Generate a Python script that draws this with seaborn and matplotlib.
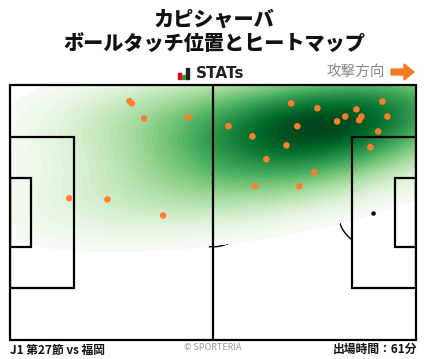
import numpy as np
import pandas as pd
import matplotlib
matplotlib.use("Agg")
import matplotlib.pyplot as plt
from matplotlib.patches import Rectangle, Arc, Circle, FancyArrow
import seaborn as sns

# Touch positions on a 105 x 68 pitch (y measured from the top touchline)
touch_x = [30.9, 31.5, 34.7, 46.1, 15.3, 25.2, 39.6, 72.7, 79.5, 96.3, 89.6, 86.7, 90.9,
           90.3, 84.6, 97.6, 56.5, 74.3, 95.2, 62.7, 93.2, 71.5, 66.3, 78.7, 63.4, 74.8]
touch_y = [4.3, 4.9, 8.9, 8.6, 30.2, 30.5, 34.8, 4.9, 6.2, 4.4, 6.5, 8.4, 8.4,
           9.4, 9.7, 8.4, 11.0, 11.0, 12.4, 13.7, 16.6, 16.1, 19.8, 23.3, 27.0, 27.0]

title_lines = ["カピシャーバ", "ボールタッチ位置とヒートマップ"]
match_label = "J1 第27節 vs 福岡"
minutes_label = "出場時間：61分"

JP = ["Noto Sans CJK JP", "DejaVu Sans"]

sns.set_theme(style="white")
plt.rcParams["font.family"] = JP

W, H = 428, 359
fig = plt.figure(figsize=(W / 100, H / 100), dpi=100)
fig.patch.set_facecolor("white")

L, R, T, B = 10, 416, 85, 340
ax = fig.add_axes([L / W, 1 - B / H, (R - L) / W, (B - T) / H])
ax.set_xlim(0, 105)
ax.set_ylim(68, 0)
ax.axis("off")

df = pd.DataFrame({"x": touch_x, "y": touch_y})
sns.kdeplot(data=df, x="x", y="y", fill=True, cmap="Greens", levels=50, thresh=0.028,
            bw_adjust=1.8, gridsize=200, cut=10, clip=((0, 105), (0, 68)), ax=ax, zorder=2)

# lines hidden under heatmap
ax.add_patch(Circle((52.5, 34), 9.15, fill=False, lw=1.0, color="black", zorder=1))
ax.add_patch(Arc((94, 34), 18.3, 18.3, theta1=127, theta2=233, lw=1.0, color="black", zorder=1))
ax.add_patch(Arc((11, 34), 18.3, 18.3, theta1=-53, theta2=53, lw=1.0, color="black", zorder=1))

lc = "black"
lw = 1.6
ax.add_patch(Rectangle((0, 0), 105, 68, fill=False, lw=lw, ec=lc, zorder=5, clip_on=False))
ax.plot([52.5, 52.5], [0, 68], color=lc, lw=lw, zorder=5)
ax.add_patch(Rectangle((0, 13.84), 16.5, 40.32, fill=False, lw=lw, ec=lc, zorder=5))
ax.add_patch(Rectangle((88.5, 13.84), 16.5, 40.32, fill=False, lw=lw, ec=lc, zorder=5))
ax.add_patch(Rectangle((0, 24.84), 5.5, 18.32, fill=False, lw=lw, ec=lc, zorder=5))
ax.add_patch(Rectangle((99.5, 24.84), 5.5, 18.32, fill=False, lw=lw, ec=lc, zorder=5))
ax.scatter([94], [34], s=5, color="black", zorder=5)

sns.scatterplot(data=df, x="x", y="y", color="#ff7f2a", s=22, edgecolor="none", ax=ax, zorder=6)
ax.set_xlabel("")
ax.set_ylabel("")

# titles
fig.text(0.5, 1 - 20 / H, title_lines[0], ha="center", va="center", fontsize=14.5,
         fontweight="heavy", color="#111111", family=JP)
fig.text(0.5, 1 - 45 / H, title_lines[1], ha="center", va="center", fontsize=14.5,
         fontweight="heavy", color="#111111", family=JP)

# STATs logo
for bx, bh, c in [(177.5, 6, "#e60012"), (181.5, 4, "#2e9e3e"), (185.5, 11, "#222222")]:
    fig.patches.append(Rectangle((bx / W, 1 - 79 / H), 3 / W, bh / H, transform=fig.transFigure,
                                 color=c, figure=fig))
fig.text(196 / W, 1 - 73.5 / H, "STATs", ha="left", va="center", fontsize=11,
         fontweight="bold", color="#222222", family=["DejaVu Sans"])

# attack direction
fig.text(385 / W, 1 - 72 / H, "攻撃方向", ha="right", va="center", fontsize=10.5,
         color="#888888", family=JP)
fig.patches.append(FancyArrow(391 / W, 1 - 72 / H, 13 / W, 0, width=6 / H, head_width=16 / H,
                              head_length=10 / W, length_includes_head=False,
                              transform=fig.transFigure, color="#f47b20", figure=fig))

# footer
fig.text(10 / W, 1 - 350 / H, match_label, ha="left", va="center", fontsize=8.5,
         fontweight="bold", color="#111111", family=JP)
fig.text(213 / W, 1 - 348 / H, "© SPORTERIA", ha="center", va="center", fontsize=6.5,
         color="#999999", family=JP)
fig.text(417 / W, 1 - 349 / H, minutes_label, ha="right", va="center", fontsize=8.5,
         fontweight="bold", color="#111111", family=JP)

fig.savefig("out.png", dpi=100, facecolor="white")
